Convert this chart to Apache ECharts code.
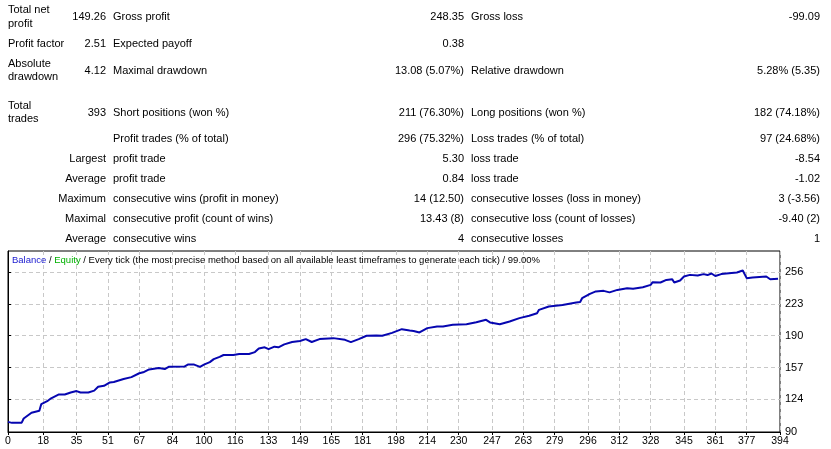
<!DOCTYPE html>
<html>
<head>
<meta charset="utf-8">
<script src="https://cdn.jsdelivr.net/npm/echarts@6/dist/echarts.min.js"></script>
<style>
  html, body { margin: 0; padding: 0; background: #fff; }
  #report { width: 831px; height: 449px; }
</style>
</head>
<body>
<div id="report"></div>
<script>
// report table, one array per column
var col1 = ['Total net\nprofit', 'Profit factor', 'Absolute\ndrawdown', 'Total\ntrades', '', 'Largest', 'Average', 'Maximum', 'Maximal', 'Average'];
var col2 = ['149.26', '2.51', '4.12', '393', '', '', '', '', '', ''];
var col3 = ['Gross profit', 'Expected payoff', 'Maximal drawdown', 'Short positions (won %)', 'Profit trades (% of total)', 'profit trade', 'profit trade', 'consecutive wins (profit in money)', 'consecutive profit (count of wins)', 'consecutive wins'];
var col4 = ['248.35', '0.38', '13.08 (5.07%)', '211 (76.30%)', '296 (75.32%)', '5.30', '0.84', '14 (12.50)', '13.43 (8)', '4'];
var col5 = ['Gross loss', '', 'Relative drawdown', 'Long positions (won %)', 'Loss trades (% of total)', 'loss trade', 'loss trade', 'consecutive losses (loss in money)', 'consecutive loss (count of losses)', 'consecutive losses'];
var col6 = ['-99.09', '', '5.28% (5.35)', '182 (74.18%)', '97 (24.68%)', '-8.54', '-1.02', '3 (-3.56)', '-9.40 (2)', '1'];

// balance curve
var tradeNo = [0, 2, 7, 8, 12, 16, 17, 20, 22, 26, 29, 32, 35, 37, 41, 44, 46, 49, 52, 54, 59, 63, 67, 69, 72, 77, 80, 82, 90, 92, 95, 98, 100, 103, 105, 108, 110, 115, 118, 123, 126, 128, 131, 133, 136, 138, 141, 145, 149, 152, 155, 159, 166, 172, 175, 179, 183, 188, 191, 196, 201, 205, 207, 210, 214, 219, 222, 227, 234, 239, 244, 246, 251, 256, 261, 266, 270, 271, 276, 283, 290, 292, 293, 297, 300, 304, 307, 311, 316, 319, 324, 328, 329, 333, 336, 339, 340, 343, 345, 348, 352, 355, 357, 359, 361, 364, 368, 372, 375, 376, 377, 380, 387, 389, 390, 393];
var balance = [100.5, 99.5, 99.7, 104, 110, 112, 119, 122, 125, 129, 129, 131, 132.5, 131, 131, 133, 137, 138, 141.5, 142, 145, 147, 151, 152, 155, 156.4, 155.4, 157.7, 158, 160.2, 160, 157.7, 160, 162.6, 165.7, 168, 170, 170, 171, 171, 173, 176.8, 178, 176, 178.6, 178, 181, 183.4, 184.5, 186.5, 183.5, 186.5, 187.5, 185.7, 183.4, 186.5, 190, 190.3, 190, 193, 196.8, 195.5, 195, 193.4, 197.9, 199.6, 199.6, 201.3, 202, 204, 206.5, 203.8, 202, 204.8, 208.3, 210.7, 213.4, 216.9, 220.4, 222, 224.5, 225, 229, 233.5, 236, 236.6, 235, 237.6, 239.4, 238.7, 240.4, 242.8, 245.6, 245.3, 248, 248.7, 245.3, 247.4, 251.5, 253.2, 252.5, 254, 253, 254.6, 252, 254, 255, 255.7, 257.7, 256.7, 249.8, 250.5, 251.5, 248.7, 250.5, 249.3];

var xTicks = [0, 18, 35, 51, 67, 84, 100, 116, 133, 149, 165, 181, 198, 214, 230, 247, 263, 279, 296, 312, 328, 345, 361, 377, 394];
var yTicks = [90, 124, 157, 190, 223, 256];

var font = 'Liberation Sans';
var rowY = [17, 44, 70.5, 112.5, 139, 159, 179, 199, 219, 239];

function txt(s, x, y, align) {
    return {
        type: 'text',
        silent: true,
        style: {
            text: s, x: x, y: y,
            align: align, verticalAlign: 'middle',
            fontSize: 11, fontFamily: font, lineHeight: 13.5,
            fill: '#000'
        }
    };
}

var elements = [];
for (var i = 0; i < rowY.length; i++) {
    var y = rowY[i];
    if (col1[i]) elements.push(i < 4 ? txt(col1[i], 8, y, 'left') : txt(col1[i], 106, y, 'right'));
    if (col2[i]) elements.push(txt(col2[i], 106, y, 'right'));
    if (col3[i]) elements.push(txt(col3[i], 113, y, 'left'));
    if (col4[i]) elements.push(txt(col4[i], 464, y, 'right'));
    if (col5[i]) elements.push(txt(col5[i], 471, y, 'left'));
    if (col6[i]) elements.push(txt(col6[i], 820, y, 'right'));
}

var myChart = echarts.init(document.getElementById('report'));
var option = {
    backgroundColor: '#fff',
    animation: false,
    textStyle: { fontFamily: font },
    title: {
        left: 12,
        top: 255,
        padding: 0,
        text: '{b|Balance} / {e|Equity} / Every tick (the most precise method based on all available least timeframes to generate each tick) / 99.00%',
        textStyle: {
            fontSize: 9.5, fontWeight: 'normal', color: '#000', fontFamily: font,
            rich: {
                b: { color: '#1a1ad0', fontSize: 9.5, fontFamily: font },
                e: { color: '#00b000', fontSize: 9.5, fontFamily: font }
            }
        }
    },
    graphic: elements,
    grid: {
        left: 8,
        right: 51,
        top: 251,
        bottom: 17,
        show: true,
        borderColor: '#000',
        borderWidth: 1
    },
    xAxis: {
        type: 'value',
        min: 0,
        max: 394,
        axisLine: { show: true, onZero: false, lineStyle: { color: '#000' } },
        axisTick: { show: true, length: 3, customValues: xTicks, lineStyle: { color: '#000' } },
        axisLabel: { customValues: xTicks, color: '#000', fontSize: 10.5, margin: 4, fontFamily: font },
        splitLine: { show: true, lineStyle: { color: '#c8c8c8', type: [4, 3] } }
    },
    yAxis: {
        type: 'value',
        position: 'right',
        min: 90,
        max: 278,
        axisLine: { show: true, lineStyle: { color: '#000' } },
        axisTick: { show: true, length: 3, customValues: yTicks, lineStyle: { color: '#000' } },
        axisLabel: { customValues: yTicks, color: '#000', fontSize: 11, margin: 5, fontFamily: font },
        splitLine: { show: true, lineStyle: { color: '#c8c8c8', type: [4, 3] } }
    },
    series: [
        {
            name: 'Balance',
            type: 'line',
            showSymbol: false,
            symbol: 'none',
            lineStyle: { color: '#0606b0', width: 2 },
            data: tradeNo.map(function (t, k) { return [t, balance[k]]; })
        }
    ]
};
myChart.setOption(option);
</script>
</body>
</html>
